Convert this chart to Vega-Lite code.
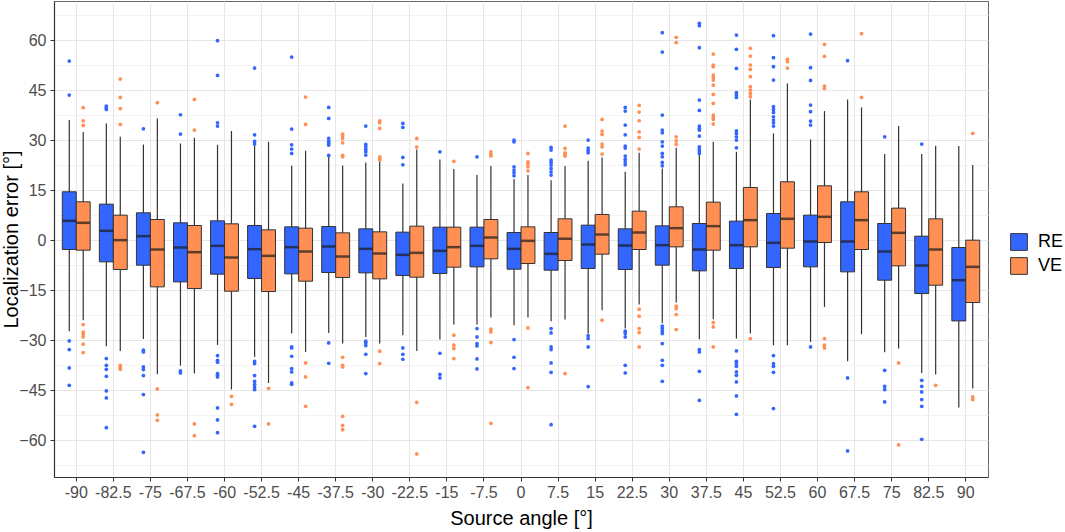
{
  "$schema": "https://vega.github.io/schema/vega-lite/v6.json",
  "width": 934,
  "height": 476,
  "autosize": {"type": "none"},
  "padding": {"left": 54, "top": 1, "right": 77, "bottom": 55},
  "background": "white",
  "config": {
    "font": "Liberation Sans",
    "view": {"stroke": "#666666", "strokeWidth": 1},
    "axis": {
      "labelFont": "Liberation Sans",
      "titleFont": "Liberation Sans",
      "labelFontSize": 16,
      "labelColor": "#4d4d4d",
      "titleFontSize": 20,
      "titleFontWeight": "normal",
      "titleColor": "#000000",
      "domainColor": "#333333",
      "domainWidth": 1.2,
      "tickColor": "#333333",
      "tickSize": 4,
      "gridColor": "#e6e6e6"
    },
    "legend": {"labelFontSize": 18, "labelColor": "#000000", "labelFont": "Liberation Sans"}
  },
  "datasets": {
    "boxes": [
      {"a": -90, "g": "RE", "lo": -27.3, "q1": -2.8, "med": 5.8, "q3": 14.5, "hi": 36},
      {"a": -90, "g": "VE", "lo": -24, "q1": -3, "med": 5.2, "q3": 11.5, "hi": 32.4},
      {"a": -82.5, "g": "RE", "lo": -31.8, "q1": -6.5, "med": 2.8, "q3": 10.8, "hi": 35},
      {"a": -82.5, "g": "VE", "lo": -33.2, "q1": -8.8, "med": 0, "q3": 7.5, "hi": 31},
      {"a": -75, "g": "RE", "lo": -29.6, "q1": -7.5, "med": 1.2, "q3": 8.2, "hi": 28.7},
      {"a": -75, "g": "VE", "lo": -40.2, "q1": -14, "med": -2.8, "q3": 6.2, "hi": 36.5},
      {"a": -67.5, "g": "RE", "lo": -37.6, "q1": -12.5, "med": -2.2, "q3": 5.2, "hi": 29},
      {"a": -67.5, "g": "VE", "lo": -40, "q1": -14.5, "med": -3.6, "q3": 4.4, "hi": 30.7},
      {"a": -60, "g": "RE", "lo": -31.4, "q1": -10.2, "med": -1.7, "q3": 5.8, "hi": 28.6},
      {"a": -60, "g": "VE", "lo": -44.8, "q1": -15.3, "med": -5.2, "q3": 4.9, "hi": 32.7},
      {"a": -52.5, "g": "RE", "lo": -35, "q1": -11.5, "med": -2.7, "q3": 4.4, "hi": 28.4},
      {"a": -52.5, "g": "VE", "lo": -42.8, "q1": -15.4, "med": -4.7, "q3": 3.1, "hi": 29.5},
      {"a": -45, "g": "RE", "lo": -28, "q1": -10.1, "med": -2.1, "q3": 4, "hi": 22.3},
      {"a": -45, "g": "VE", "lo": -33.5, "q1": -12.3, "med": -3.4, "q3": 3.6, "hi": 26.8},
      {"a": -37.5, "g": "RE", "lo": -27.8, "q1": -9.7, "med": -1.9, "q3": 4.1, "hi": 25},
      {"a": -37.5, "g": "VE", "lo": -31, "q1": -11.2, "med": -4.9, "q3": 2.2, "hi": 22.4},
      {"a": -30, "g": "RE", "lo": -29, "q1": -9.8, "med": -2.6, "q3": 3.4, "hi": 23.3},
      {"a": -30, "g": "VE", "lo": -31, "q1": -11.6, "med": -4, "q3": 2.5, "hi": 23.5},
      {"a": -22.5, "g": "RE", "lo": -28.5, "q1": -10.6, "med": -4.4, "q3": 2.4, "hi": 17},
      {"a": -22.5, "g": "VE", "lo": -33.2, "q1": -11.1, "med": -3.8, "q3": 4.2, "hi": 27.2},
      {"a": -15, "g": "RE", "lo": -29.8, "q1": -10, "med": -3.2, "q3": 3.9, "hi": 24.2},
      {"a": -15, "g": "VE", "lo": -25.3, "q1": -8.1, "med": -2.1, "q3": 3.9, "hi": 21.3},
      {"a": -7.5, "g": "RE", "lo": -25.3, "q1": -8, "med": -1.7, "q3": 3.9, "hi": 19.5},
      {"a": -7.5, "g": "VE", "lo": -23.2, "q1": -5.6, "med": 0.8, "q3": 6.2, "hi": 22.2},
      {"a": 0, "g": "RE", "lo": -25.5, "q1": -8.7, "med": -2.6, "q3": 2.3, "hi": 18.3},
      {"a": 0, "g": "VE", "lo": -23.2, "q1": -7, "med": -0.2, "q3": 4, "hi": 19.5},
      {"a": 7.5, "g": "RE", "lo": -24.3, "q1": -9, "med": -4.1, "q3": 2.3, "hi": 18},
      {"a": 7.5, "g": "VE", "lo": -23.8, "q1": -6.1, "med": 0.4, "q3": 6.4, "hi": 22.2},
      {"a": 15, "g": "RE", "lo": -28, "q1": -8.5, "med": -1.3, "q3": 4.5, "hi": 23.8},
      {"a": 15, "g": "VE", "lo": -21, "q1": -4.2, "med": 1.7, "q3": 7.7, "hi": 24.8},
      {"a": 22.5, "g": "RE", "lo": -26.5, "q1": -8.8, "med": -1.6, "q3": 3.4, "hi": 20.5},
      {"a": 22.5, "g": "VE", "lo": -19.3, "q1": -2.8, "med": 2.3, "q3": 8.7, "hi": 26.2},
      {"a": 30, "g": "RE", "lo": -24.8, "q1": -7.5, "med": -1.5, "q3": 4.3, "hi": 21.5},
      {"a": 30, "g": "VE", "lo": -18.7, "q1": -2, "med": 3.6, "q3": 10, "hi": 27.7},
      {"a": 37.5, "g": "RE", "lo": -29.7, "q1": -9.2, "med": -2.8, "q3": 5, "hi": 25.5},
      {"a": 37.5, "g": "VE", "lo": -23.7, "q1": -3, "med": 4.2, "q3": 11.4, "hi": 29.5},
      {"a": 45, "g": "RE", "lo": -29.5, "q1": -8.5, "med": -1.5, "q3": 5.7, "hi": 26.5},
      {"a": 45, "g": "VE", "lo": -28, "q1": -2, "med": 6, "q3": 15.8, "hi": 42.2},
      {"a": 52.5, "g": "RE", "lo": -31.5, "q1": -8.2, "med": -0.8, "q3": 8, "hi": 32},
      {"a": 52.5, "g": "VE", "lo": -31.5, "q1": -2.4, "med": 6.4, "q3": 17.5, "hi": 47},
      {"a": 60, "g": "RE", "lo": -30.5, "q1": -8, "med": -0.4, "q3": 7.5, "hi": 30.2},
      {"a": 60, "g": "VE", "lo": -20, "q1": -0.7, "med": 7, "q3": 16.3, "hi": 38.7},
      {"a": 67.5, "g": "RE", "lo": -36.3, "q1": -9.5, "med": -0.4, "q3": 11.5, "hi": 42.2},
      {"a": 67.5, "g": "VE", "lo": -28.2, "q1": -2.8, "med": 6, "q3": 14.5, "hi": 39.8},
      {"a": 75, "g": "RE", "lo": -33.6, "q1": -12, "med": -3.4, "q3": 5, "hi": 25.8},
      {"a": 75, "g": "VE", "lo": -32.5, "q1": -7.7, "med": 2.2, "q3": 9.6, "hi": 34.2},
      {"a": 82.5, "g": "RE", "lo": -39.8, "q1": -16, "med": -7.6, "q3": 1.2, "hi": 25.8},
      {"a": 82.5, "g": "VE", "lo": -40.3, "q1": -13.5, "med": -2.8, "q3": 6.4, "hi": 28.3},
      {"a": 90, "g": "RE", "lo": -50.2, "q1": -24.2, "med": -12, "q3": -2.2, "hi": 28.2},
      {"a": 90, "g": "VE", "lo": -44.5, "q1": -18.7, "med": -8, "q3": 0, "hi": 22.5}
    ],
    "outliers": [
      {"a": -90, "g": "RE", "v": 53.7}, {"a": -90, "g": "RE", "v": 43.5}, {"a": -90, "g": "RE", "v": -30.2}, {"a": -90, "g": "RE", "v": -32.8}, {"a": -90, "g": "RE", "v": -38.3}, {"a": -90, "g": "RE", "v": -43.5},
      {"a": -90, "g": "VE", "v": 39.7}, {"a": -90, "g": "VE", "v": 35.8}, {"a": -90, "g": "VE", "v": 34.4}, {"a": -90, "g": "VE", "v": -25.3}, {"a": -90, "g": "VE", "v": -27.6}, {"a": -90, "g": "VE", "v": -28.3}, {"a": -90, "g": "VE", "v": -29}, {"a": -90, "g": "VE", "v": -31.2}, {"a": -90, "g": "VE", "v": -33.7},
      {"a": -82.5, "g": "RE", "v": 40.2}, {"a": -82.5, "g": "RE", "v": 39.7}, {"a": -82.5, "g": "RE", "v": 39.2}, {"a": -82.5, "g": "RE", "v": -35.5}, {"a": -82.5, "g": "RE", "v": -37.5}, {"a": -82.5, "g": "RE", "v": -38.7}, {"a": -82.5, "g": "RE", "v": -40.8}, {"a": -82.5, "g": "RE", "v": -45.2}, {"a": -82.5, "g": "RE", "v": -47.3}, {"a": -82.5, "g": "RE", "v": -56.2},
      {"a": -82.5, "g": "VE", "v": 48.3}, {"a": -82.5, "g": "VE", "v": 42.8}, {"a": -82.5, "g": "VE", "v": 39.4}, {"a": -82.5, "g": "VE", "v": 34.7}, {"a": -82.5, "g": "VE", "v": -37.5}, {"a": -82.5, "g": "VE", "v": -38.2}, {"a": -82.5, "g": "VE", "v": -38.7},
      {"a": -75, "g": "RE", "v": 33.4}, {"a": -75, "g": "RE", "v": -33}, {"a": -75, "g": "RE", "v": -33.5}, {"a": -75, "g": "RE", "v": -38}, {"a": -75, "g": "RE", "v": -38.8}, {"a": -75, "g": "RE", "v": -40.6}, {"a": -75, "g": "RE", "v": -46.3}, {"a": -75, "g": "RE", "v": -63.6},
      {"a": -75, "g": "VE", "v": 41.2}, {"a": -75, "g": "VE", "v": -44.6}, {"a": -75, "g": "VE", "v": -52.4}, {"a": -75, "g": "VE", "v": -54},
      {"a": -67.5, "g": "RE", "v": 37.6}, {"a": -67.5, "g": "RE", "v": 31.8}, {"a": -67.5, "g": "RE", "v": -39.2}, {"a": -67.5, "g": "RE", "v": -39.8},
      {"a": -67.5, "g": "VE", "v": 42.2}, {"a": -67.5, "g": "VE", "v": 33}, {"a": -67.5, "g": "VE", "v": -55.1}, {"a": -67.5, "g": "VE", "v": -58.6},
      {"a": -60, "g": "RE", "v": 59.8}, {"a": -60, "g": "RE", "v": 49.4}, {"a": -60, "g": "RE", "v": 35.2}, {"a": -60, "g": "RE", "v": 34.2}, {"a": -60, "g": "RE", "v": -34.6}, {"a": -60, "g": "RE", "v": -36}, {"a": -60, "g": "RE", "v": -36.6}, {"a": -60, "g": "RE", "v": -40}, {"a": -60, "g": "RE", "v": -40.5}, {"a": -60, "g": "RE", "v": -41}, {"a": -60, "g": "RE", "v": -50.3}, {"a": -60, "g": "RE", "v": -53.9}, {"a": -60, "g": "RE", "v": -57.7},
      {"a": -60, "g": "VE", "v": -46.8}, {"a": -60, "g": "VE", "v": -49.2},
      {"a": -52.5, "g": "RE", "v": 51.6}, {"a": -52.5, "g": "RE", "v": 31.6}, {"a": -52.5, "g": "RE", "v": 29.6}, {"a": -52.5, "g": "RE", "v": 28.8}, {"a": -52.5, "g": "RE", "v": -36.3}, {"a": -52.5, "g": "RE", "v": -37}, {"a": -52.5, "g": "RE", "v": -40.6}, {"a": -52.5, "g": "RE", "v": -42.3}, {"a": -52.5, "g": "RE", "v": -43.2}, {"a": -52.5, "g": "RE", "v": -44}, {"a": -52.5, "g": "RE", "v": -44.8}, {"a": -52.5, "g": "RE", "v": -55.8},
      {"a": -52.5, "g": "VE", "v": -44.4}, {"a": -52.5, "g": "VE", "v": -55.1},
      {"a": -45, "g": "RE", "v": 54.9}, {"a": -45, "g": "RE", "v": 33.3}, {"a": -45, "g": "RE", "v": 28.6}, {"a": -45, "g": "RE", "v": 27.3}, {"a": -45, "g": "RE", "v": 26}, {"a": -45, "g": "RE", "v": -32}, {"a": -45, "g": "RE", "v": -32.3}, {"a": -45, "g": "RE", "v": -34.8}, {"a": -45, "g": "RE", "v": -38.5}, {"a": -45, "g": "RE", "v": -39.5}, {"a": -45, "g": "RE", "v": -42.8}, {"a": -45, "g": "RE", "v": -43.2},
      {"a": -45, "g": "VE", "v": 42.9}, {"a": -45, "g": "VE", "v": 34.7}, {"a": -45, "g": "VE", "v": -36.8}, {"a": -45, "g": "VE", "v": -41}, {"a": -45, "g": "VE", "v": -49.8},
      {"a": -37.5, "g": "RE", "v": 39.8}, {"a": -37.5, "g": "RE", "v": 36.5}, {"a": -37.5, "g": "RE", "v": 30.5}, {"a": -37.5, "g": "RE", "v": 29.6}, {"a": -37.5, "g": "RE", "v": 29}, {"a": -37.5, "g": "RE", "v": 28.5}, {"a": -37.5, "g": "RE", "v": 25.4}, {"a": -37.5, "g": "RE", "v": -30.8}, {"a": -37.5, "g": "RE", "v": -36.9},
      {"a": -37.5, "g": "VE", "v": 31.8}, {"a": -37.5, "g": "VE", "v": 31.2}, {"a": -37.5, "g": "VE", "v": 30.5}, {"a": -37.5, "g": "VE", "v": 29.2}, {"a": -37.5, "g": "VE", "v": 25.4}, {"a": -37.5, "g": "VE", "v": 25}, {"a": -37.5, "g": "VE", "v": -35.1}, {"a": -37.5, "g": "VE", "v": -37.5}, {"a": -37.5, "g": "VE", "v": -38}, {"a": -37.5, "g": "VE", "v": -52.8}, {"a": -37.5, "g": "VE", "v": -55.5}, {"a": -37.5, "g": "VE", "v": -56.8},
      {"a": -30, "g": "RE", "v": 34.2}, {"a": -30, "g": "RE", "v": 28.7}, {"a": -30, "g": "RE", "v": 28}, {"a": -30, "g": "RE", "v": 27.2}, {"a": -30, "g": "RE", "v": 26.5}, {"a": -30, "g": "RE", "v": 25.5}, {"a": -30, "g": "RE", "v": -30.3}, {"a": -30, "g": "RE", "v": -30.8}, {"a": -30, "g": "RE", "v": -31.6}, {"a": -30, "g": "RE", "v": -34.2}, {"a": -30, "g": "RE", "v": -40},
      {"a": -30, "g": "VE", "v": 35.8}, {"a": -30, "g": "VE", "v": 35.2}, {"a": -30, "g": "VE", "v": 33.5}, {"a": -30, "g": "VE", "v": 25}, {"a": -30, "g": "VE", "v": 24.4}, {"a": -30, "g": "VE", "v": 24}, {"a": -30, "g": "VE", "v": -33.3}, {"a": -30, "g": "VE", "v": -37},
      {"a": -22.5, "g": "RE", "v": 35}, {"a": -22.5, "g": "RE", "v": 33.8}, {"a": -22.5, "g": "RE", "v": 24.8}, {"a": -22.5, "g": "RE", "v": 22.6}, {"a": -22.5, "g": "RE", "v": -32.3}, {"a": -22.5, "g": "RE", "v": -34.2}, {"a": -22.5, "g": "RE", "v": -35.7},
      {"a": -22.5, "g": "VE", "v": 30.5}, {"a": -22.5, "g": "VE", "v": 27.9}, {"a": -22.5, "g": "VE", "v": -48.6}, {"a": -22.5, "g": "VE", "v": -64.1},
      {"a": -15, "g": "RE", "v": 26.5}, {"a": -15, "g": "RE", "v": -33.9}, {"a": -15, "g": "RE", "v": -40.2}, {"a": -15, "g": "RE", "v": -41.3},
      {"a": -15, "g": "VE", "v": 23.6}, {"a": -15, "g": "VE", "v": -28.5}, {"a": -15, "g": "VE", "v": -31.5}, {"a": -15, "g": "VE", "v": -32.5}, {"a": -15, "g": "VE", "v": -35.5},
      {"a": -7.5, "g": "RE", "v": 25}, {"a": -7.5, "g": "RE", "v": -26.5}, {"a": -7.5, "g": "RE", "v": -29}, {"a": -7.5, "g": "RE", "v": -31}, {"a": -7.5, "g": "RE", "v": -31.7}, {"a": -7.5, "g": "RE", "v": -35.6}, {"a": -7.5, "g": "RE", "v": -38.6},
      {"a": -7.5, "g": "VE", "v": 26.5}, {"a": -7.5, "g": "VE", "v": 25.8}, {"a": -7.5, "g": "VE", "v": 25.3}, {"a": -7.5, "g": "VE", "v": -26.7}, {"a": -7.5, "g": "VE", "v": -27.5}, {"a": -7.5, "g": "VE", "v": -30.7}, {"a": -7.5, "g": "VE", "v": -54.9},
      {"a": 0, "g": "RE", "v": 30}, {"a": 0, "g": "RE", "v": 29.5}, {"a": 0, "g": "RE", "v": 22}, {"a": 0, "g": "RE", "v": 21}, {"a": 0, "g": "RE", "v": 20.2}, {"a": 0, "g": "RE", "v": 19.3}, {"a": 0, "g": "RE", "v": -29.8}, {"a": 0, "g": "RE", "v": -35.1}, {"a": 0, "g": "RE", "v": -38.5},
      {"a": 0, "g": "VE", "v": 26}, {"a": 0, "g": "VE", "v": 23.5}, {"a": 0, "g": "VE", "v": 22.8}, {"a": 0, "g": "VE", "v": 22}, {"a": 0, "g": "VE", "v": 20.8}, {"a": 0, "g": "VE", "v": -26.3}, {"a": 0, "g": "VE", "v": -44.2},
      {"a": 7.5, "g": "RE", "v": 27.8}, {"a": 7.5, "g": "RE", "v": 27}, {"a": 7.5, "g": "RE", "v": 24}, {"a": 7.5, "g": "RE", "v": 23.3}, {"a": 7.5, "g": "RE", "v": 22.5}, {"a": 7.5, "g": "RE", "v": 21.5}, {"a": 7.5, "g": "RE", "v": 20.5}, {"a": 7.5, "g": "RE", "v": 19.5}, {"a": 7.5, "g": "RE", "v": -26.5}, {"a": 7.5, "g": "RE", "v": -27.8}, {"a": 7.5, "g": "RE", "v": -32}, {"a": 7.5, "g": "RE", "v": -32.8}, {"a": 7.5, "g": "RE", "v": -36.8}, {"a": 7.5, "g": "RE", "v": -39.6}, {"a": 7.5, "g": "RE", "v": -55.3},
      {"a": 7.5, "g": "VE", "v": 34.2}, {"a": 7.5, "g": "VE", "v": 27.5}, {"a": 7.5, "g": "VE", "v": 26.2}, {"a": 7.5, "g": "VE", "v": 25.7}, {"a": 7.5, "g": "VE", "v": 25.2}, {"a": 7.5, "g": "VE", "v": -40},
      {"a": 15, "g": "RE", "v": 30}, {"a": 15, "g": "RE", "v": 27.6}, {"a": 15, "g": "RE", "v": 26.9}, {"a": 15, "g": "RE", "v": 26.2}, {"a": 15, "g": "RE", "v": -28.6}, {"a": 15, "g": "RE", "v": -29.5}, {"a": 15, "g": "RE", "v": -32}, {"a": 15, "g": "RE", "v": -43.9},
      {"a": 15, "g": "VE", "v": 36.2}, {"a": 15, "g": "VE", "v": 32.7}, {"a": 15, "g": "VE", "v": 31.7}, {"a": 15, "g": "VE", "v": 28.8}, {"a": 15, "g": "VE", "v": 28}, {"a": 15, "g": "VE", "v": 25.8}, {"a": 15, "g": "VE", "v": -24},
      {"a": 22.5, "g": "RE", "v": 39.8}, {"a": 22.5, "g": "RE", "v": 38.7}, {"a": 22.5, "g": "RE", "v": 34.5}, {"a": 22.5, "g": "RE", "v": 31.6}, {"a": 22.5, "g": "RE", "v": 28.2}, {"a": 22.5, "g": "RE", "v": 27.6}, {"a": 22.5, "g": "RE", "v": 25.2}, {"a": 22.5, "g": "RE", "v": 24.2}, {"a": 22.5, "g": "RE", "v": 23.4}, {"a": 22.5, "g": "RE", "v": 22.6}, {"a": 22.5, "g": "RE", "v": -27.3}, {"a": 22.5, "g": "RE", "v": -28}, {"a": 22.5, "g": "RE", "v": -29}, {"a": 22.5, "g": "RE", "v": -37.5}, {"a": 22.5, "g": "RE", "v": -39.8},
      {"a": 22.5, "g": "VE", "v": 40.4}, {"a": 22.5, "g": "VE", "v": 38.4}, {"a": 22.5, "g": "VE", "v": 35.8}, {"a": 22.5, "g": "VE", "v": 32.5}, {"a": 22.5, "g": "VE", "v": 30.8}, {"a": 22.5, "g": "VE", "v": 27.3}, {"a": 22.5, "g": "VE", "v": -20.7}, {"a": 22.5, "g": "VE", "v": -22.8}, {"a": 22.5, "g": "VE", "v": -26.5}, {"a": 22.5, "g": "VE", "v": -27.7}, {"a": 22.5, "g": "VE", "v": -32},
      {"a": 30, "g": "RE", "v": 62.2}, {"a": 30, "g": "RE", "v": 56.4}, {"a": 30, "g": "RE", "v": 37.5}, {"a": 30, "g": "RE", "v": 33}, {"a": 30, "g": "RE", "v": 32.2}, {"a": 30, "g": "RE", "v": 29.5}, {"a": 30, "g": "RE", "v": 28.2}, {"a": 30, "g": "RE", "v": 26}, {"a": 30, "g": "RE", "v": 25}, {"a": 30, "g": "RE", "v": 23.3}, {"a": 30, "g": "RE", "v": 22.3}, {"a": 30, "g": "RE", "v": -25.8}, {"a": 30, "g": "RE", "v": -26.5}, {"a": 30, "g": "RE", "v": -27.3}, {"a": 30, "g": "RE", "v": -28}, {"a": 30, "g": "RE", "v": -31}, {"a": 30, "g": "RE", "v": -36}, {"a": 30, "g": "RE", "v": -37.5}, {"a": 30, "g": "RE", "v": -42.3},
      {"a": 30, "g": "VE", "v": 60.8}, {"a": 30, "g": "VE", "v": 59.2}, {"a": 30, "g": "VE", "v": 31}, {"a": 30, "g": "VE", "v": 29.8}, {"a": 30, "g": "VE", "v": 28.7}, {"a": 30, "g": "VE", "v": -19.8}, {"a": 30, "g": "VE", "v": -20.5}, {"a": 30, "g": "VE", "v": -22.3}, {"a": 30, "g": "VE", "v": -26.8},
      {"a": 37.5, "g": "RE", "v": 65}, {"a": 37.5, "g": "RE", "v": 64.3}, {"a": 37.5, "g": "RE", "v": 57.7}, {"a": 37.5, "g": "RE", "v": 42}, {"a": 37.5, "g": "RE", "v": 38.9}, {"a": 37.5, "g": "RE", "v": 34.2}, {"a": 37.5, "g": "RE", "v": 33.5}, {"a": 37.5, "g": "RE", "v": 33}, {"a": 37.5, "g": "RE", "v": 31.2}, {"a": 37.5, "g": "RE", "v": 28}, {"a": 37.5, "g": "RE", "v": 27.3}, {"a": 37.5, "g": "RE", "v": 26.7}, {"a": 37.5, "g": "RE", "v": 26}, {"a": 37.5, "g": "RE", "v": -32.8}, {"a": 37.5, "g": "RE", "v": -33.5}, {"a": 37.5, "g": "RE", "v": -39.3}, {"a": 37.5, "g": "RE", "v": -48},
      {"a": 37.5, "g": "VE", "v": 55.8}, {"a": 37.5, "g": "VE", "v": 52.5}, {"a": 37.5, "g": "VE", "v": 52}, {"a": 37.5, "g": "VE", "v": 49.5}, {"a": 37.5, "g": "VE", "v": 48.7}, {"a": 37.5, "g": "VE", "v": 48}, {"a": 37.5, "g": "VE", "v": 46.5}, {"a": 37.5, "g": "VE", "v": 43.7}, {"a": 37.5, "g": "VE", "v": 41}, {"a": 37.5, "g": "VE", "v": 37.5}, {"a": 37.5, "g": "VE", "v": 36.8}, {"a": 37.5, "g": "VE", "v": 36.2}, {"a": 37.5, "g": "VE", "v": 34.8}, {"a": 37.5, "g": "VE", "v": -24.7}, {"a": 37.5, "g": "VE", "v": -26}, {"a": 37.5, "g": "VE", "v": -32},
      {"a": 45, "g": "RE", "v": 61.5}, {"a": 45, "g": "RE", "v": 57.2}, {"a": 45, "g": "RE", "v": 51.5}, {"a": 45, "g": "RE", "v": 44.2}, {"a": 45, "g": "RE", "v": 43.5}, {"a": 45, "g": "RE", "v": 42.8}, {"a": 45, "g": "RE", "v": 32.8}, {"a": 45, "g": "RE", "v": 32}, {"a": 45, "g": "RE", "v": 31}, {"a": 45, "g": "RE", "v": 30}, {"a": 45, "g": "RE", "v": 27.7}, {"a": 45, "g": "RE", "v": -33.2}, {"a": 45, "g": "RE", "v": -36.3}, {"a": 45, "g": "RE", "v": -37}, {"a": 45, "g": "RE", "v": -37.8}, {"a": 45, "g": "RE", "v": -39.5}, {"a": 45, "g": "RE", "v": -40.5}, {"a": 45, "g": "RE", "v": -42.5}, {"a": 45, "g": "RE", "v": -46.7}, {"a": 45, "g": "RE", "v": -52.2},
      {"a": 45, "g": "VE", "v": 57.5}, {"a": 45, "g": "VE", "v": 55.2}, {"a": 45, "g": "VE", "v": 52.5}, {"a": 45, "g": "VE", "v": 51.2}, {"a": 45, "g": "VE", "v": 49}, {"a": 45, "g": "VE", "v": 46}, {"a": 45, "g": "VE", "v": 45}, {"a": 45, "g": "VE", "v": 44}, {"a": 45, "g": "VE", "v": 43}, {"a": 45, "g": "VE", "v": -29.5},
      {"a": 52.5, "g": "RE", "v": 61.3}, {"a": 52.5, "g": "RE", "v": 54.7}, {"a": 52.5, "g": "RE", "v": 52}, {"a": 52.5, "g": "RE", "v": 48}, {"a": 52.5, "g": "RE", "v": 40}, {"a": 52.5, "g": "RE", "v": 39.2}, {"a": 52.5, "g": "RE", "v": 38.3}, {"a": 52.5, "g": "RE", "v": 37}, {"a": 52.5, "g": "RE", "v": 36}, {"a": 52.5, "g": "RE", "v": 35.2}, {"a": 52.5, "g": "RE", "v": 34.2}, {"a": 52.5, "g": "RE", "v": -34.6}, {"a": 52.5, "g": "RE", "v": -37}, {"a": 52.5, "g": "RE", "v": -37.8}, {"a": 52.5, "g": "RE", "v": -39.6}, {"a": 52.5, "g": "RE", "v": -50.5},
      {"a": 52.5, "g": "VE", "v": 54.2}, {"a": 52.5, "g": "VE", "v": 53.5}, {"a": 52.5, "g": "VE", "v": 51.6},
      {"a": 60, "g": "RE", "v": 61.8}, {"a": 60, "g": "RE", "v": 51.7}, {"a": 60, "g": "RE", "v": 47.9}, {"a": 60, "g": "RE", "v": 40.5}, {"a": 60, "g": "RE", "v": 38.5}, {"a": 60, "g": "RE", "v": 35.7}, {"a": 60, "g": "RE", "v": 34.5}, {"a": 60, "g": "RE", "v": -32},
      {"a": 60, "g": "VE", "v": 58.7}, {"a": 60, "g": "VE", "v": 55.1}, {"a": 60, "g": "VE", "v": 46.2}, {"a": 60, "g": "VE", "v": 45.5}, {"a": 60, "g": "VE", "v": -29.5}, {"a": 60, "g": "VE", "v": -31.5}, {"a": 60, "g": "VE", "v": -32.3},
      {"a": 67.5, "g": "RE", "v": 53.8}, {"a": 67.5, "g": "RE", "v": -41.3}, {"a": 67.5, "g": "RE", "v": -63.2},
      {"a": 67.5, "g": "VE", "v": 61.9}, {"a": 67.5, "g": "VE", "v": 42.8},
      {"a": 75, "g": "RE", "v": 31}, {"a": 75, "g": "RE", "v": -39}, {"a": 75, "g": "RE", "v": -43.8}, {"a": 75, "g": "RE", "v": -44.8}, {"a": 75, "g": "RE", "v": -48.5},
      {"a": 75, "g": "VE", "v": -36.8}, {"a": 75, "g": "VE", "v": -61.4},
      {"a": 82.5, "g": "RE", "v": 28.8}, {"a": 82.5, "g": "RE", "v": -42}, {"a": 82.5, "g": "RE", "v": -43.8}, {"a": 82.5, "g": "RE", "v": -45.5}, {"a": 82.5, "g": "RE", "v": -47.8}, {"a": 82.5, "g": "RE", "v": -49.8}, {"a": 82.5, "g": "RE", "v": -59.7},
      {"a": 82.5, "g": "VE", "v": -43.5},
      {"a": 90, "g": "VE", "v": 32}, {"a": 90, "g": "VE", "v": -47}, {"a": 90, "g": "VE", "v": -47.8}
    ]
  },
  "encoding": {
    "x": {
      "field": "a",
      "type": "ordinal",
      "title": "Source angle [°]",
      "scale": {
        "domain": [-90, -82.5, -75, -67.5, -60, -52.5, -45, -37.5, -30, -22.5, -15, -7.5, 0, 7.5, 15, 22.5, 30, 37.5, 45, 52.5, 60, 67.5, 75, 82.5, 90],
        "paddingInner": 0,
        "paddingOuter": 0.1
      },
      "axis": {"labelAngle": 0, "grid": true, "labelPadding": 3, "titlePadding": 8}
    },
    "xOffset": {
      "field": "g",
      "type": "nominal",
      "scale": {"domain": ["RE", "VE"], "paddingInner": 0, "paddingOuter": 0.33}
    }
  },
  "resolve": {"axis": {"y": "independent"}},
  "layer": [
    {
      "data": {"name": "boxes"},
      "mark": {"type": "rule", "color": "#333333", "strokeWidth": 1.2},
      "encoding": {
        "y": {
          "field": "lo",
          "type": "quantitative",
          "title": "Localization error [°]",
          "scale": {"domain": [-71, 71.7], "nice": false, "zero": false},
          "axis": {
            "values": [-60, -45, -30, -15, 0, 15, 30, 45, 60],
            "labelPadding": 4,
            "titleX": -37,
            "titleBaseline": "alphabetic",
            "grid": true,
            "gridColor": "#e6e6e6",
            "zindex": 0
          }
        },
        "y2": {"field": "hi"}
      }
    },
    {
      "data": {"name": "boxes"},
      "mark": {"type": "bar", "stroke": "#333333", "strokeWidth": 1},
      "encoding": {
        "y": {
          "field": "q1",
          "type": "quantitative",
          "axis": {
            "orient": "left",
            "values": [-67.5, -52.5, -37.5, -22.5, -7.5, 7.5, 22.5, 37.5, 52.5, 67.5],
            "labels": false,
            "ticks": false,
            "domain": false,
            "title": null,
            "grid": true,
            "gridColor": "#f3f3f3",
            "offset": 0,
            "zindex": 0
          }
        },
        "y2": {"field": "q3"},
        "color": {
          "field": "g",
          "type": "nominal",
          "scale": {"domain": ["RE", "VE"], "range": ["#3366ff", "#ff8f52"]},
          "legend": {
            "title": null,
            "orient": "none",
            "legendX": 956,
            "legendY": 232,
            "symbolType": "square",
            "symbolSize": 280,
            "symbolStrokeColor": "#333333",
            "symbolStrokeWidth": 1,
            "symbolOpacity": 1,
            "rowPadding": 2,
            "labelOffset": 10
          }
        }
      }
    },
    {
      "data": {"name": "boxes"},
      "mark": {"type": "tick", "color": "#1a1a1a", "thickness": 2.5, "size": 13.5},
      "encoding": {
        "y": {"field": "med", "type": "quantitative", "axis": null}
      }
    },
    {
      "data": {"name": "outliers"},
      "mark": {"type": "circle", "size": 14, "opacity": 1},
      "encoding": {
        "y": {"field": "v", "type": "quantitative", "axis": null},
        "color": {"field": "g", "type": "nominal", "legend": null}
      }
    }
  ]
}
